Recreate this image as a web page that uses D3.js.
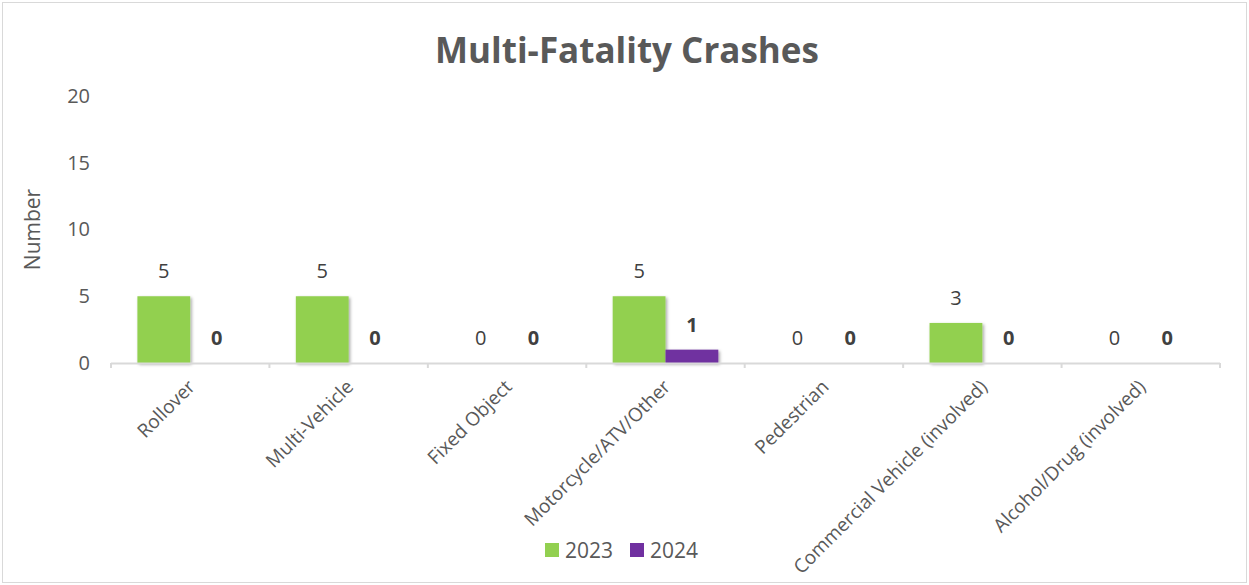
<!DOCTYPE html>
<html>
<head>
<meta charset="utf-8">
<script src="https://cdn.jsdelivr.net/npm/d3@7"></script>
<style>
  body { margin: 0; background: #fff; }
  text { font-family: "Open Sans", sans-serif; fill: #595959; }
</style>
</head>
<body>
<script>
// data
const categories = ["Rollover", "Multi-Vehicle", "Fixed Object", "Motorcycle/ATV/Other",
  "Pedestrian", "Commercial Vehicle (involved)", "Alcohol/Drug (involved)"];
const years = ["2023", "2024"];
const values2023 = [5, 5, 0, 5, 0, 3, 0];
const values2024 = [0, 0, 0, 1, 0, 0, 0];
const yTicks = [0, 5, 10, 15, 20];
const colors = ["#92d050", "#7030a0"];

const W = 1249, H = 585;
const margin = { left: 111, right: 29, top: 96, bottom: 222 };

const svg = d3.select("body").append("svg")
  .attr("width", W)
  .attr("height", H);

const defs = svg.append("defs");
const f = defs.append("filter").attr("id", "shadow")
  .attr("x", "-20%").attr("y", "-20%").attr("width", "150%").attr("height", "150%");
f.append("feDropShadow")
  .attr("dx", 1.5).attr("dy", 1.5).attr("stdDeviation", 1.5)
  .attr("flood-color", "#000").attr("flood-opacity", 0.35);

// chart border
svg.append("rect")
  .attr("x", 2.5).attr("y", 2.5)
  .attr("width", W - 5).attr("height", H - 5)
  .attr("fill", "none")
  .attr("stroke", "#d9d9d9");

const x = d3.scaleBand()
  .domain(categories)
  .range([margin.left, W - margin.right])
  .paddingInner(0).paddingOuter(0);

const inner = d3.scaleBand()
  .domain(years)
  .range([0, x.bandwidth()])
  .paddingInner(0).paddingOuter(0.5);

const y = d3.scaleLinear()
  .domain([0, 20])
  .range([H - margin.bottom, margin.top]);

// title
svg.append("text")
  .attr("x", 627).attr("y", 63)
  .attr("text-anchor", "middle")
  .style("font-size", "35px")
  .style("font-weight", "bold")
  .text("Multi-Fatality Crashes");

// y axis labels
const yAxis = svg.append("g")
  .attr("transform", `translate(${margin.left - 21},0)`)
  .call(d3.axisLeft(y).tickValues(yTicks).tickSize(0).tickPadding(0));
yAxis.select(".domain").remove();
yAxis.selectAll("text")
  .style("font-size", "20px")
  .style("font-family", "'Open Sans', sans-serif")
  .attr("fill", "#595959");

svg.append("text")
  .attr("transform", `translate(40,${y(10)}) rotate(-90)`)
  .attr("text-anchor", "middle")
  .style("font-size", "21px")
  .text("Number");

// series
const series = [values2023, values2024];
series.forEach((vals, s) => {
  const g = svg.append("g");
  g.selectAll("rect")
    .data(vals.map((v, i) => ({ v, c: categories[i] })))
    .join("rect")
    .filter(d => d.v > 0)
    .attr("x", d => x(d.c) + inner(years[s]))
    .attr("y", d => y(d.v))
    .attr("width", inner.bandwidth())
    .attr("height", d => y(0) - y(d.v))
    .attr("fill", colors[s])
    .attr("filter", "url(#shadow)");

  g.selectAll("text")
    .data(vals.map((v, i) => ({ v, c: categories[i] })))
    .join("text")
    .attr("x", d => x(d.c) + inner(years[s]) + inner.bandwidth() / 2)
    .attr("y", d => y(d.v) - 18)
    .attr("text-anchor", "middle")
    .style("font-size", "20px")
    .style("font-weight", s === 1 ? "bold" : "normal")
    .style("fill", "#404040")
    .text(d => d.v);
});

// x axis
const xAxis = svg.append("g")
  .attr("transform", `translate(0,${y(0)})`);
xAxis.append("line")
  .attr("x1", margin.left).attr("x2", W - margin.right)
  .attr("y1", 0.5).attr("y2", 0.5)
  .attr("stroke", "#d9d9d9").attr("stroke-width", 2);
xAxis.selectAll(".tick")
  .data(categories.concat(["__end"]))
  .join("line")
  .attr("x1", (d, i) => margin.left + i * x.step())
  .attr("x2", (d, i) => margin.left + i * x.step())
  .attr("y1", 0).attr("y2", 5)
  .attr("stroke", "#d9d9d9").attr("stroke-width", 2);
xAxis.selectAll(".lbl")
  .data(categories)
  .join("text")
  .attr("transform", d => `translate(${x(d) + x.bandwidth() / 2 + 6},${25}) rotate(-45)`)
  .attr("text-anchor", "end")
  .style("font-size", "19px")
  .text(d => d);

// legend
const legend = svg.append("g").attr("transform", "translate(545,543)");
years.forEach((yr, i) => {
  const lg = legend.append("g").attr("transform", `translate(${i * 85},0)`);
  lg.append("rect").attr("width", 14).attr("height", 14).attr("fill", colors[i]);
  lg.append("text").attr("x", 20).attr("y", 15)
    .style("font-size", "21px").text(yr);
});
</script>
</body>
</html>
